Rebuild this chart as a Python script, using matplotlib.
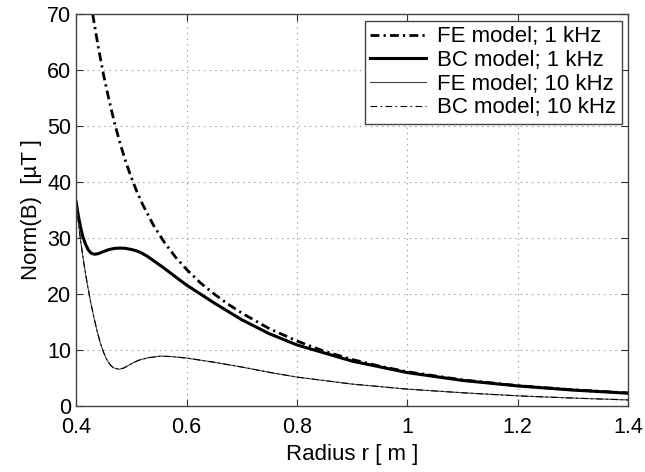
import matplotlib.pyplot as plt

plt.rcParams['font.family'] = ['Liberation Sans', 'DejaVu Sans']

# FE model, 1 kHz
r_fe1 = [0.43, 0.44, 0.45, 0.46, 0.47, 0.48, 0.49, 0.50, 0.51, 0.52, 0.54, 0.56,
         0.58, 0.60, 0.625, 0.65, 0.675, 0.70, 0.75, 0.80, 0.85, 0.90, 0.95, 1.0,
         1.1, 1.2, 1.3, 1.4]
b_fe1 = [70.0, 64.2, 59.0, 54.5, 50.4, 46.8, 43.6, 40.8, 38.3, 36.1, 32.3, 29.2,
         26.6, 24.4, 22.0, 20.0, 18.2, 16.6, 13.8, 11.6, 9.75, 8.3, 7.1, 6.1,
         4.65, 3.62, 2.88, 2.32]

# BC model, 1 kHz
r_bc1 = [0.4, 0.404, 0.408, 0.412, 0.417, 0.422, 0.427, 0.433, 0.44, 0.45, 0.46, 0.47,
         0.48, 0.49, 0.50, 0.508, 0.516, 0.528, 0.541, 0.556, 0.571, 0.585, 0.6, 0.625,
         0.65, 0.7, 0.75, 0.8, 0.9, 1.0, 1.1, 1.2, 1.3, 1.4]
b_bc1 = [36.5, 34.0, 32.0, 30.3, 28.9, 27.9, 27.3, 27.1, 27.2, 27.6, 27.95, 28.15,
         28.2, 28.15, 27.95, 27.75, 27.45, 26.8, 25.9, 24.85, 23.75, 22.7, 21.6, 20.0,
         18.4, 15.4, 12.9, 10.9, 8.0, 5.95, 4.55, 3.57, 2.83, 2.27]

# FE model, 10 kHz
r_fe10 = [0.4, 0.404, 0.408, 0.414, 0.42, 0.426, 0.432, 0.438, 0.444, 0.45, 0.456, 0.462,
          0.468, 0.477, 0.486, 0.495, 0.505, 0.516, 0.53, 0.553, 0.575, 0.6, 0.65, 0.7,
          0.75, 0.8, 0.9, 1.0, 1.1, 1.2, 1.3, 1.4]
b_fe10 = [36.5, 33.0, 29.6, 25.5, 21.9, 18.7, 15.9, 13.4, 11.2, 9.5, 8.2, 7.3,
          6.8, 6.55, 6.75, 7.25, 7.8, 8.25, 8.6, 8.9, 8.8, 8.55, 7.8, 6.95,
          6.0, 5.15, 3.9, 3.0, 2.35, 1.8, 1.4, 1.07]

# BC model, 10 kHz
r_bc10 = [0.4, 0.404, 0.408, 0.414, 0.42, 0.426, 0.432, 0.438, 0.444, 0.45, 0.456, 0.462,
          0.468, 0.477, 0.486, 0.495, 0.505, 0.516, 0.53, 0.553, 0.575, 0.6, 0.65, 0.7,
          0.75, 0.8, 0.9, 1.0, 1.1, 1.2, 1.3, 1.4]
b_bc10 = [36.5, 33.0, 29.6, 25.5, 21.9, 18.7, 15.9, 13.4, 11.2, 9.5, 8.2, 7.3,
          6.8, 6.55, 6.75, 7.25, 7.8, 8.25, 8.6, 8.9, 8.8, 8.55, 7.8, 6.95,
          6.0, 5.15, 3.9, 3.0, 2.35, 1.8, 1.4, 1.07]

fig = plt.figure(figsize=(6.45, 4.72), dpi=100)
ax = fig.add_axes([0.118, 0.140, 0.856, 0.830])

ax.plot(r_fe1, b_fe1, color='black', lw=2.0, dashes=(3.2, 1.5, 0.8, 1.5), label='FE model; 1 kHz')
ax.plot(r_bc1, b_bc1, color='black', lw=2.2, label='BC model; 1 kHz')
ax.plot(r_fe10, b_fe10, color='#444444', lw=0.8, label='FE model; 10 kHz')
ax.plot(r_bc10, b_bc10, color='black', lw=0.8, dashes=(6, 3, 1.5, 3), label='BC model; 10 kHz')

ax.set_xlim(0.4, 1.4)
ax.set_ylim(0, 70)
ax.set_xticks([0.4, 0.6, 0.8, 1.0, 1.2, 1.4])
ax.set_xticklabels(['0.4', '0.6', '0.8', '1', '1.2', '1.4'])
ax.set_yticks(range(0, 71, 10))

ax.grid(True, linestyle=(0, (1, 4)), color='#888888', lw=0.8)
ax.tick_params(direction='in', top=True, right=True, labelsize=15.5, length=5, colors='#333333',
               labelcolor='black')
ax.tick_params(axis='x', pad=8)
for s in ax.spines.values():
    s.set_color('#444444')
    s.set_linewidth(1.0)

ax.set_xlabel('Radius r [ m ]', fontsize=16)
ax.set_ylabel('Norm(B)  [µT ]', fontsize=16)

leg = ax.legend(loc='upper right', fontsize=16, fancybox=False, framealpha=1,
                edgecolor='#444444', handlelength=2.5, borderpad=0.25, labelspacing=0.12,
                handletextpad=0.5, borderaxespad=0.3)
leg.get_frame().set_linewidth(1.0)

fig.savefig('out.png', dpi=100)
